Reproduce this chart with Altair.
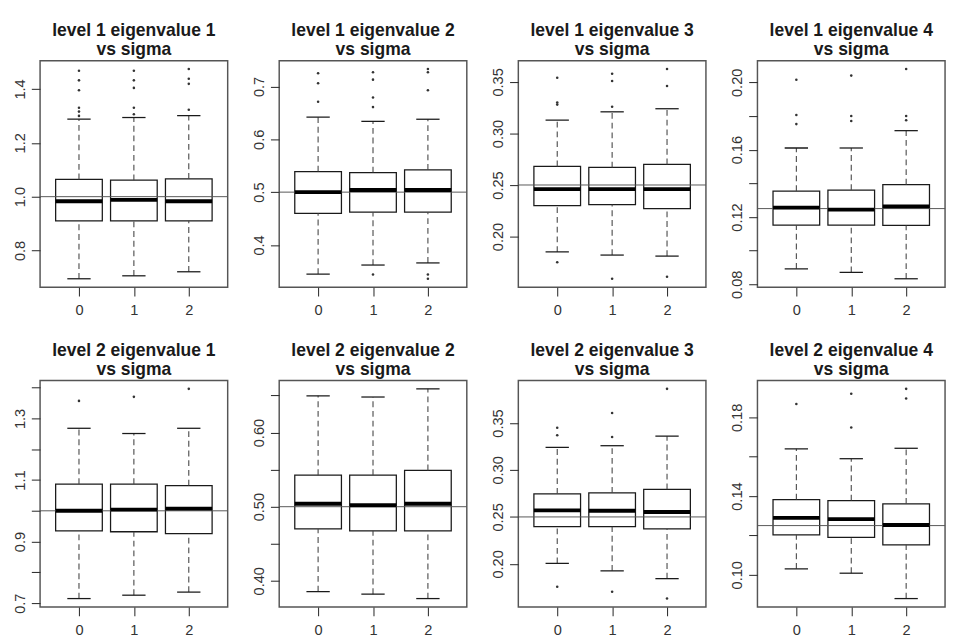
import altair as alt
import pandas as pd

# ---------------- data ----------------
titles = [
    "level 1 eigenvalue 1", "level 1 eigenvalue 2", "level 1 eigenvalue 3", "level 1 eigenvalue 4",
    "level 2 eigenvalue 1", "level 2 eigenvalue 2", "level 2 eigenvalue 3", "level 2 eigenvalue 4",
]
subtitle = "vs sigma"
sigma_labels = ["0", "1", "2"]
refs = [1.0, 0.5, 0.25, 0.125, 1.0, 0.5, 0.25, 0.125]

lower_whisker = [
    [0.695, 0.706, 0.721], [0.345, 0.362, 0.366], [0.185, 0.182, 0.181], [0.0892, 0.0871, 0.0833],
    [0.715, 0.726, 0.736], [0.3855, 0.382, 0.376], [0.2005, 0.1926, 0.1843], [0.103, 0.1008, 0.0879],
]
q1 = [
    [0.910, 0.910, 0.910], [0.460, 0.462, 0.462], [0.230, 0.231, 0.227], [0.1152, 0.1152, 0.1150],
    [0.935, 0.932, 0.926], [0.470, 0.4675, 0.4675], [0.2396, 0.2396, 0.2372], [0.1203, 0.1190, 0.1152],
]
median = [
    [0.983, 0.988, 0.983], [0.500, 0.504, 0.504], [0.246, 0.246, 0.246], [0.1256, 0.1244, 0.1263],
    [1.000, 1.004, 1.007], [0.504, 0.502, 0.504], [0.257, 0.2566, 0.2552], [0.1289, 0.1283, 0.1253],
]
q3 = [
    [1.064, 1.061, 1.066], [0.539, 0.537, 0.542], [0.268, 0.267, 0.270], [0.1354, 0.1360, 0.1392],
    [1.087, 1.087, 1.082], [0.5425, 0.5425, 0.549], [0.2746, 0.2756, 0.2794], [0.1382, 0.1377, 0.1360],
]
upper_whisker = [
    [1.288, 1.294, 1.301], [0.642, 0.634, 0.638], [0.313, 0.321, 0.324], [0.161, 0.161, 0.1713],
    [1.268, 1.251, 1.268], [0.6496, 0.648, 0.659], [0.324, 0.3258, 0.336], [0.164, 0.159, 0.1643],
]
outliers = [
    [[1.468, 1.432, 1.395, 1.330, 1.316, 1.300], [1.468, 1.432, 1.404, 1.330, 1.306], [1.474, 1.438, 1.419, 1.323]],
    [[0.725, 0.706, 0.671], [0.727, 0.713, 0.679, 0.661, 0.344], [0.733, 0.727, 0.693, 0.344, 0.336]],
    [[0.354, 0.330, 0.328, 0.175], [0.358, 0.351, 0.326, 0.159], [0.3625, 0.346, 0.161]],
    [[0.2015, 0.1806, 0.1752], [0.204, 0.180, 0.177], [0.2079, 0.180, 0.1775]],
    [[1.357], [1.370], [1.396]],
    [[], [], []],
    [[0.345, 0.337, 0.1756], [0.3607, 0.335, 0.1704], [0.3863, 0.1631]],
    [[0.1868], [0.192, 0.1749], [0.1945, 0.1896]],
]

# y-axis ticks and which ones carry a label (R drops overlapping labels)
y_ticks = [
    [0.8, 1.0, 1.2, 1.4],
    [0.4, 0.5, 0.6, 0.7],
    [0.20, 0.25, 0.30, 0.35],
    [0.08, 0.10, 0.12, 0.14, 0.16, 0.18, 0.20],
    [0.7, 0.8, 0.9, 1.0, 1.1, 1.2, 1.3, 1.4],
    [0.40, 0.45, 0.50, 0.55, 0.60, 0.65],
    [0.20, 0.25, 0.30, 0.35],
    [0.10, 0.12, 0.14, 0.16, 0.18],
]
y_labels = [
    ["0.8", "1.0", "1.2", "1.4"],
    ["0.4", "0.5", "0.6", "0.7"],
    ["0.20", "0.25", "0.30", "0.35"],
    ["0.08", "0.12", "0.16", "0.20"],
    ["0.7", "0.9", "1.1", "1.3"],
    ["0.40", "0.50", "0.60"],
    ["0.20", "0.25", "0.30", "0.35"],
    ["0.10", "0.14", "0.18"],
]
y_formats = [".1f", ".1f", ".2f", ".2f", ".1f", ".2f", ".2f", ".2f"]

# ---------------- styling ----------------
FONT = "Liberation Sans"
INK = "#1a1a1a"
PANEL_W = 193
PANEL_H = 233
BOX_PX = 48
CAP_PX = 24
NBSP = "\u00a0"


def make_panel(i):
    pos = [1, 2, 3]
    box_df = pd.DataFrame({
        "pos": pos,
        "lw": lower_whisker[i],
        "q1": q1[i],
        "med": median[i],
        "q3": q3[i],
        "uw": upper_whisker[i],
    })
    out_df = pd.DataFrame(
        [{"pos": g + 1, "v": v} for g, vals in enumerate(outliers[i]) for v in vals],
        columns=["pos", "v"],
    )
    ref_df = pd.DataFrame({"ref": [refs[i]]})

    allvals = lower_whisker[i] + upper_whisker[i] + [v for vals in outliers[i] for v in vals]
    lo, hi = min(allvals), max(allvals)
    pad = (hi - lo) * 0.04  # R's default 4% axis extension
    yscale = alt.Scale(domain=[lo - pad, hi + pad], nice=False, zero=False)
    xscale = alt.Scale(domain=[0.38, 3.62], nice=False, zero=False)

    fmt = y_formats[i]
    lab_list = "[" + ",".join("'" + s + "'" for s in y_labels[i]) + "]"
    y_expr = (f"indexof({lab_list}, format(datum.value, '{fmt}')) >= 0 ? "
              f"format(datum.value, '{fmt}') : ''")
    x_list = "[" + ",".join("'" + s + "'" for s in sigma_labels) + "]"
    x_expr = f"{x_list}[datum.value - 1]"

    xaxis = alt.Axis(values=pos, labelExpr=x_expr, title=None, grid=False, domain=False,
                     tickSize=9, labelPadding=7, labelAngle=0)
    yaxis = alt.Axis(values=y_ticks[i], labelExpr=y_expr, title=None, grid=False, domain=False,
                     tickSize=9, labelPadding=7, labelAngle=270, labelAlign="center",
                     labelBaseline="alphabetic")

    X = alt.X("pos:Q", scale=xscale, axis=xaxis)

    boxes = alt.Chart(box_df).mark_bar(
        size=BOX_PX, fill="white", stroke=INK, strokeWidth=1.3, opacity=1
    ).encode(x=X, y=alt.Y("q1:Q", scale=yscale, axis=yaxis), y2="q3:Q")

    whisk_up = alt.Chart(box_df).mark_rule(
        color="#444444", strokeWidth=1.1, strokeDash=[6, 4]
    ).encode(x=X, y=alt.Y("q3:Q", scale=yscale, axis=yaxis), y2="uw:Q")
    whisk_lo = alt.Chart(box_df).mark_rule(
        color="#444444", strokeWidth=1.1, strokeDash=[6, 4]
    ).encode(x=X, y=alt.Y("lw:Q", scale=yscale, axis=yaxis), y2="q1:Q")

    cap_up = alt.Chart(box_df).mark_tick(
        orient="horizontal", size=CAP_PX, thickness=1.3, color=INK, opacity=1
    ).encode(x=X, y=alt.Y("uw:Q", scale=yscale, axis=yaxis))
    cap_lo = alt.Chart(box_df).mark_tick(
        orient="horizontal", size=CAP_PX, thickness=1.3, color=INK, opacity=1
    ).encode(x=X, y=alt.Y("lw:Q", scale=yscale, axis=yaxis))

    ref_line = alt.Chart(ref_df).mark_rule(color="#555555", strokeWidth=1).encode(
        y=alt.Y("ref:Q", scale=yscale, axis=yaxis)
    )

    med = alt.Chart(box_df).mark_tick(
        orient="horizontal", size=BOX_PX, thickness=4, color="#000000", opacity=1
    ).encode(x=X, y=alt.Y("med:Q", scale=yscale, axis=yaxis))

    pts = alt.Chart(out_df).mark_circle(size=7, color="#333333", opacity=1).encode(
        x=X, y=alt.Y("v:Q", scale=yscale, axis=yaxis)
    )

    return alt.layer(boxes, whisk_up, whisk_lo, cap_up, cap_lo, ref_line, med, pts).properties(
        width=PANEL_W,
        height=PANEL_H,
        title=alt.TitleParams(
            text=[titles[i] + NBSP, NBSP + subtitle],
            font=FONT, fontSize=18, fontWeight="bold", color=INK,
            anchor="middle", frame="group", lineHeight=19, offset=2,
        ),
    )


row1 = alt.hconcat(*[make_panel(i) for i in range(4)], spacing=22)
row2 = alt.hconcat(*[make_panel(i) for i in range(4, 8)], spacing=22)

chart = alt.vconcat(row1, row2, spacing=24).properties(
    padding={"left": 4, "top": 5, "right": 0, "bottom": 0}
).configure_view(
    stroke="#555555", strokeWidth=1.5
).configure_axis(
    labelFont=FONT, labelFontSize=15, labelColor="#333333",
    tickColor="#333333", tickWidth=1.1,
)

chart.save("out.html", embed_options={"renderer": "svg", "actions": False})
